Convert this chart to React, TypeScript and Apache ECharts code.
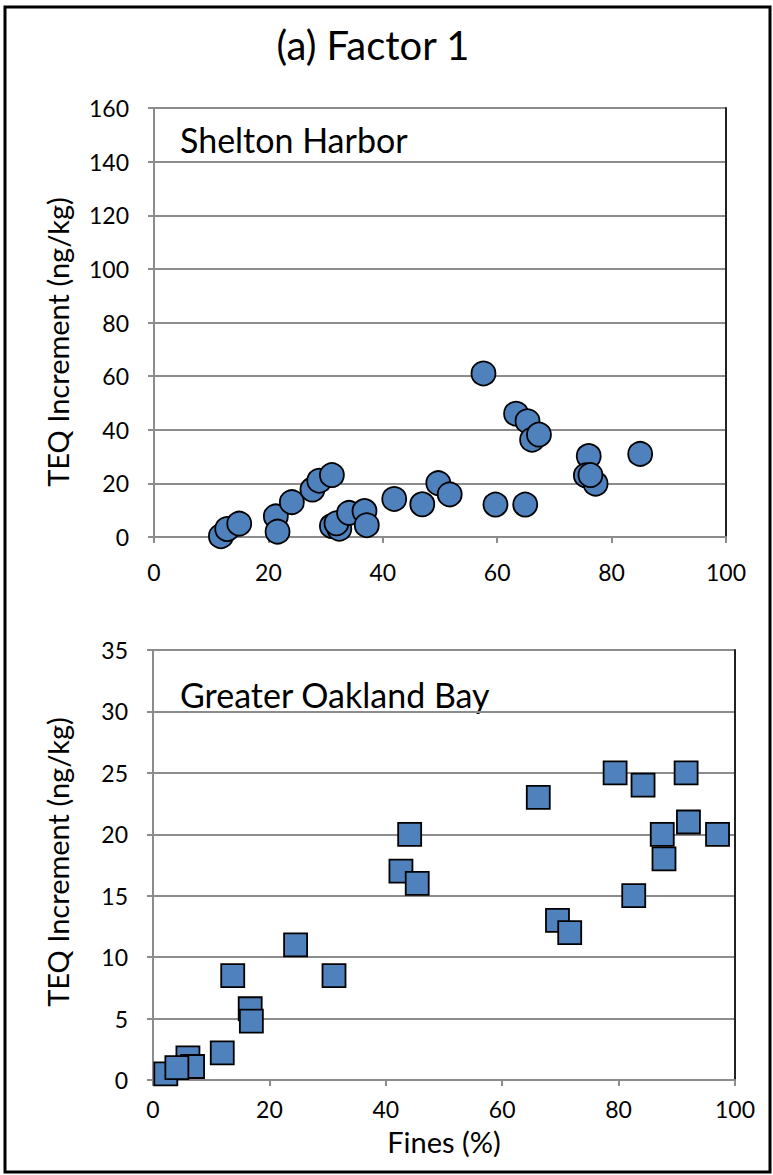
import React, { useEffect, useRef } from "react";
import * as echarts from "echarts";

const titleText = "(a) Factor 1";
const topLabel = "Shelton Harbor";
const bottomLabel = "Greater Oakland Bay";
const yName = "TEQ Increment (ng/kg)";
const xName = "Fines (%)";

const sheltonFines = [11.7, 12.8, 14.9, 21.3, 21.6, 24.1, 27.7, 28.9, 31.1, 31.1, 32.4, 31.9, 34.1, 36.8, 37.2, 42.0, 46.9, 49.7, 51.7, 57.6, 59.7, 64.9, 63.3, 65.3, 66.1, 67.3, 76.0, 75.5, 77.2, 76.3, 85.0];
const sheltonTEQ = [0.3, 3.0, 5.0, 7.7, 2.0, 13.0, 17.7, 21.0, 23.1, 4.1, 3.1, 5.1, 9.0, 9.7, 4.4, 14.2, 12.2, 20.1, 15.9, 61.0, 12.1, 12.1, 46.0, 43.2, 36.3, 38.2, 30.2, 23.0, 19.9, 23.1, 31.0];

const oaklandFines = [2.2, 6.0, 6.8, 4.1, 11.9, 13.7, 16.7, 16.9, 24.5, 31.1, 44.1, 42.6, 45.4, 66.2, 69.5, 71.6, 79.4, 84.2, 91.6, 92.0, 87.5, 87.8, 82.6, 97.0];
const oaklandTEQ = [0.5, 1.8, 1.1, 1.0, 2.2, 8.5, 5.8, 4.8, 11.0, 8.5, 20.0, 17.0, 16.0, 23.0, 13.0, 12.0, 25.0, 24.0, 25.0, 21.0, 20.0, 18.0, 15.0, 20.0];

const FONT = "Lato";
const GRID_COLOR = "#8c8c8c";
const TEXT_COLOR = "#000";

function xAxisCfg(gridIndex: number, withName: boolean, labelMargin: number) {
  return {
    gridIndex,
    type: "value",
    min: 0,
    max: 100,
    interval: 20,
    name: withName ? xName : "",
    nameLocation: "middle",
    nameGap: 47,
    nameTextStyle: { fontFamily: FONT, fontSize: 29, color: TEXT_COLOR },
    axisLine: { show: true, onZero: false, lineStyle: { color: GRID_COLOR, width: 2 } },
    axisTick: { show: true, length: 6, lineStyle: { color: GRID_COLOR, width: 2 } },
    axisLabel: { fontFamily: FONT, fontSize: 23, color: TEXT_COLOR, margin: labelMargin },
    splitLine: { show: false },
  };
}

function yAxisCfg(gridIndex: number, max: number, interval: number) {
  return {
    gridIndex,
    type: "value",
    min: 0,
    max,
    interval,
    axisLine: { show: true, lineStyle: { color: GRID_COLOR, width: 2 } },
    axisTick: { show: true, length: 6, lineStyle: { color: GRID_COLOR, width: 2 } },
    axisLabel: { fontFamily: FONT, fontSize: 23, color: TEXT_COLOR, margin: 25 },
    splitLine: { show: true, lineStyle: { color: GRID_COLOR, width: 2 } },
  };
}

function rightAxisCfg(gridIndex: number, max: number, interval: number) {
  return {
    gridIndex,
    type: "value",
    position: "right",
    min: 0,
    max,
    interval,
    axisLine: { show: true, lineStyle: { color: "#222", width: 2 } },
    axisTick: { show: false },
    axisLabel: { show: false },
    splitLine: { show: false },
  };
}

export default function App() {
  const ref = useRef<HTMLDivElement>(null);
  useEffect(() => {
    document.body.style.margin = "0";
    if (!ref.current) return;
    const chart = echarts.init(ref.current, null, { renderer: "svg" });
    const markerStyle = { color: "#4F81BD", borderColor: "#000", borderWidth: 1.8, opacity: 1 };
    chart.setOption({
      animation: false,
      backgroundColor: "#fff",
      textStyle: { fontFamily: FONT },
      grid: [
        { left: 154, top: 108, width: 572, height: 429 },
        { left: 153, top: 650, width: 582, height: 430 },
      ],
      xAxis: [xAxisCfg(0, false, 23), xAxisCfg(1, true, 17)],
      yAxis: [
        yAxisCfg(0, 160, 20),
        yAxisCfg(1, 35, 5),
        rightAxisCfg(0, 160, 20),
        rightAxisCfg(1, 35, 5),
      ],
      series: [
        {
          type: "scatter",
          xAxisIndex: 0,
          yAxisIndex: 0,
          symbol: "circle",
          symbolSize: 24,
          itemStyle: markerStyle,
          data: sheltonFines.map((x, i) => [x, sheltonTEQ[i]]),
        },
        {
          type: "scatter",
          xAxisIndex: 1,
          yAxisIndex: 1,
          symbol: "rect",
          symbolSize: 23,
          itemStyle: markerStyle,
          data: oaklandFines.map((x, i) => [x, oaklandTEQ[i]]),
        },
      ],
      graphic: [
        {
          type: "rect",
          shape: { x: 5, y: 7, width: 765, height: 1165 },
          style: { fill: "none", stroke: "#000", lineWidth: 3 },
          silent: true,
        },
        {
          type: "text",
          x: 373,
          y: 45,
          style: { text: titleText, font: `40px ${FONT}`, fill: TEXT_COLOR, align: "center", verticalAlign: "middle" },
        },
        {
          type: "text",
          x: 57,
          y: 342,
          rotation: Math.PI / 2,
          style: { text: yName, font: `29px ${FONT}`, fill: TEXT_COLOR, align: "center", verticalAlign: "middle" },
        },
        {
          type: "text",
          x: 57,
          y: 862,
          rotation: Math.PI / 2,
          style: { text: yName, font: `29px ${FONT}`, fill: TEXT_COLOR, align: "center", verticalAlign: "middle" },
        },
        {
          type: "text",
          x: 180,
          y: 139,
          style: { text: topLabel, font: `34px ${FONT}`, fill: TEXT_COLOR, align: "left", verticalAlign: "middle" },
        },
        {
          type: "text",
          x: 180,
          y: 694,
          style: { text: bottomLabel, font: `34px ${FONT}`, fill: TEXT_COLOR, align: "left", verticalAlign: "middle" },
        },
      ],
    });
    return () => chart.dispose();
  }, []);
  return <div ref={ref} style={{ width: 773, height: 1175 }} />;
}
